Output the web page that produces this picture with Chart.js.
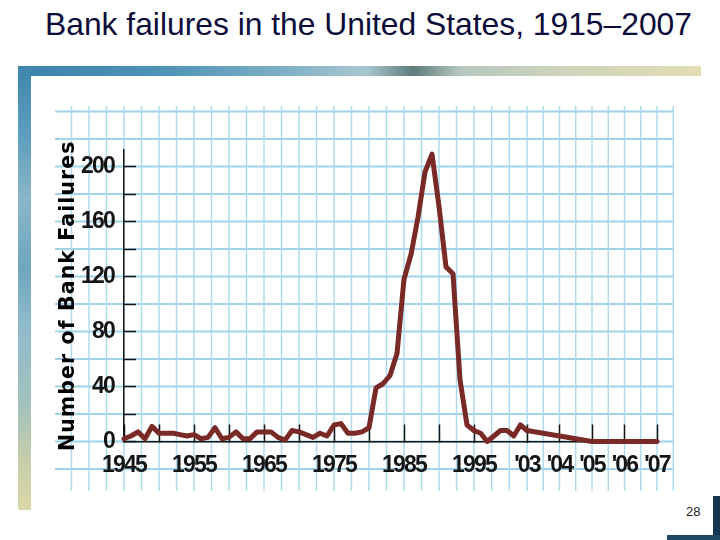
<!DOCTYPE html>
<html>
<head>
<meta charset="utf-8">
<script src="https://cdn.jsdelivr.net/npm/chart.js@4"></script>
<style>
html,body{margin:0;padding:0;background:#fff;width:720px;height:540px;overflow:hidden;position:relative;font-family:"Liberation Sans",Arial,sans-serif;}
#title{position:absolute;left:45px;top:6px;font-size:31.8px;line-height:36px;color:#0c0c3a;white-space:nowrap;}
#page{position:absolute;left:686px;top:504px;font-size:13px;line-height:16px;color:#222;}
#stripL{position:absolute;left:18px;top:66px;width:13px;height:444px;
 background:linear-gradient(180deg,#3f86ad 0%,#5d9cbd 15%,#8ab6c8 30%,#6fa6c0 45%,#93bccb 60%,#9fc0be 75%,#c9cfa9 90%,#dcd7a8 100%);}
#stripT{position:absolute;left:31px;top:66px;width:670px;height:10px;
 background:linear-gradient(90deg,#3b84ac 0%,#4f93b7 20%,#7fb0c6 38%,#a9c7cf 50%,#5e7d7c 57%,#b5c7bf 64%,#cdd3bb 78%,#e2ddb3 100%);}
#cornerR{position:absolute;left:713px;top:496px;width:7px;height:44px;background:#153650;}
#cornerB{position:absolute;left:667px;top:535px;width:53px;height:5px;background:#1d4763;}
#c{position:absolute;left:0;top:0;}
</style>
</head>
<body>
<div id="stripL"></div>
<div id="stripT"></div>
<div id="cornerR"></div>
<div id="cornerB"></div>
<div id="title">Bank failures in the United States, 1915–2007</div>
<div id="page">28</div>
<canvas id="c" width="720" height="540"></canvas>
<script>
// ---- data ----
const years = [1945,1946,1947,1948,1949,1950,1951,1952,1953,1954,1955,1956,1957,1958,1959,
  1960,1961,1962,1963,1964,1965,1966,1967,1968,1969,1970,1971,1972,1973,1974,1975,1976,1977,1978,1979,
  1980,1981,1982,1983,1984,1985,1986,1987,1988,1989,1990,1991,1992,1993,1994,1995,1996,1997,1998,1999,
  2000,2001,2002,2003,2004,2005,2006,2007];
const failures = [2,4,7,2,11,6,6,6,5,4,5,2,3,10,2,
  3,7,2,2,7,7,7,3,1,8,7,5,3,6,4,12,13,6,6,7,
  10,39,42,48,64,118,136,163,196,209,171,127,122,45,12,8,6,0,4,8,
  8,4,12,8,4,0,0,0];
const yTickValues = [0,20,40,60,80,100,120,140,160,180,200];
const yLabelValues = [0,40,80,120,160,200];
const xTicksEarly = [1945,1950,1955,1960,1965,1970,1975,1980,1985,1990,1995];
const xLabelsEarly = [1945,1955,1965,1975,1985,1995];
const xTicksLate = [2003,2004,2005,2006,2007];
const yTitle = 'Number of Bank Failures';

const LINE = '#7a2a26';
const INK = '#151515';
const tickFont = {family:"'Liberation Sans',Arial,sans-serif", weight:'bold', size:23, lineHeight:1};

function seg(lo, hi){
  return years.map((yr,i)=>({x:yr, y:failures[i]})).filter(p=>p.x>=lo && p.x<=hi);
}
function ds(axis, lo, hi){
  return {data:seg(lo,hi), xAxisID:axis, yAxisID:'y', borderColor:LINE, borderWidth:5,
    pointRadius:0, tension:0, fill:false, clip:false, borderJoinStyle:'round', borderCapStyle:'round'};
}

// graph-paper background, placed through the scales
const paper = {
  id:'paper',
  beforeDraw(chart){
    const {ctx, scales} = chart;
    const {xa, xm, xb, y} = scales;
    const L=55, R=673, T=106, B=491;
    ctx.save();
    ctx.strokeStyle = '#a0d3ea';
    ctx.lineWidth = 2.2;
    for (let v=-20; v<=240; v+=20){
      const py = y.getPixelForValue(v);
      if (py < T || py > B) continue;
      ctx.beginPath(); ctx.moveTo(L, py); ctx.lineTo(R, py); ctx.stroke();
    }
    const xs = [];
    for (let v=1945; ; v-=2.5){ const px = xa.getPixelForValue(v); if (px < L+6) break; xs.push(px); }
    for (let v=1947.5; v<=1995; v+=2.5) xs.push(xa.getPixelForValue(v));
    for (let k=1; k<=3; k++) xs.push(xm.getPixelForValue(1995 + k*8/3));
    for (let v=2003.5; ; v+=0.5){ const px = xb.getPixelForValue(v); if (px > R+1) break; xs.push(px); }
    ctx.lineWidth = 1.4;
    ctx.strokeStyle = '#acd9ed';
    xs.forEach(px=>{ ctx.beginPath(); ctx.moveTo(px, T); ctx.lineTo(px, B); ctx.stroke(); });
    ctx.restore();
    // wide spacing for the axis title (drawn before the datasets)
    ctx.letterSpacing = '1.1px';
  },
  afterDatasetsDraw(chart){
    // tight, condensed-looking tick labels (drawn after the datasets, ticks.z = 1)
    chart.ctx.letterSpacing = '-1.8px';
  },
  afterDraw(chart){
    chart.ctx.letterSpacing = '0px';
  }
};

const axisGrid = {display:true, drawOnChartArea:false, drawTicks:true, tickLength:-17, tickWidth:1.5, tickColor:INK, color:INK};
const axisBorder = {display:true, color:INK, width:1.5};

new Chart(document.getElementById('c'), {
  type:'line',
  data:{datasets:[ds('xa',1945,1995), ds('xm',1995,2003), ds('xb',2003,2007)]},
  options:{
    responsive:false, animation:false, devicePixelRatio:1,
    layout:{padding:{left:55, right:63, top:150, bottom:58.5}},
    plugins:{legend:{display:false}, tooltip:{enabled:false}},
    scales:{
      xa:{type:'linear', position:'bottom', stack:'x', stackWeight:350, weight:0, min:1945, max:1995,
        afterBuildTicks:s=>{ s.ticks = xTicksEarly.map(v=>({value:v})); },
        afterFit:s=>{ s.height = 40; },
        grid:axisGrid, border:axisBorder,
        ticks:{z:1, autoSkip:false, maxRotation:0, padding:30, font:tickFont, color:INK,
          callback:v=> xLabelsEarly.includes(v) ? String(v) : ''}},
      xm:{type:'linear', position:'bottom', stack:'x', stackWeight:53, weight:1, min:1995, max:2003,
        afterBuildTicks:s=>{ s.ticks = []; },
        afterFit:s=>{ s.height = 40; },
        grid:{display:false}, border:axisBorder,
        ticks:{display:false}},
      xb:{type:'linear', position:'bottom', stack:'x', stackWeight:130, weight:2, min:2003, max:2007,
        afterBuildTicks:s=>{ s.ticks = xTicksLate.map(v=>({value:v})); },
        afterFit:s=>{ s.height = 40; },
        grid:axisGrid, border:axisBorder,
        ticks:{z:1, autoSkip:false, maxRotation:0, padding:30, font:tickFont, color:INK,
          callback:v=> "'" + String(v).slice(2)}},
      y:{type:'linear', position:'left', min:0, max:212,
        afterBuildTicks:s=>{ s.ticks = yTickValues.map(v=>({value:v})); },
        afterFit:s=>{ s.width = 69; },
        grid:{display:true, drawOnChartArea:false, drawTicks:true, tickLength:-12, tickWidth:1.5, tickColor:INK, color:INK},
        border:axisBorder,
        ticks:{z:1, autoSkip:false, padding:22, font:tickFont, color:INK,
          callback:v=> yLabelValues.includes(v) ? String(v) : ''},
        title:{display:true, text:yTitle, color:'#000', padding:{top:1, bottom:0},
          font:{family:"'DejaVu Sans',sans-serif", weight:'bold', size:20.5, lineHeight:1.2}}}
    }
  },
  plugins:[paper]
});
</script>
</body>
</html>
